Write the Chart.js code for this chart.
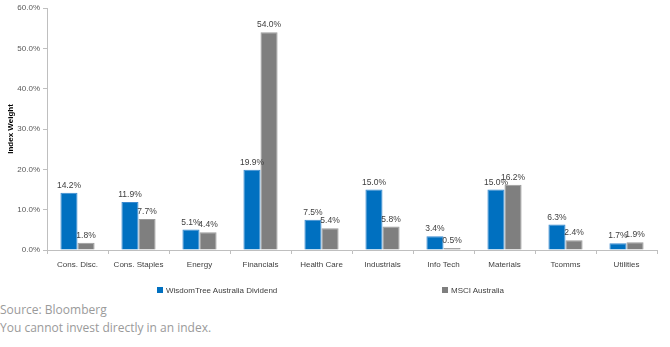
<!DOCTYPE html>
<html lang="en">
<head>
  <meta charset="UTF-8">
  <title>Sector Weights</title>
  <script src="https://cdn.jsdelivr.net/npm/chart.js"></script>
  <style>
    body {
      margin: 0;
      background: #fff;
      font-family: "Open Sans", sans-serif;
    }
    .chart-box {
      position: relative;
      width: 670px;
      height: 300px;
    }
    .legend {
      position: absolute;
      top: 286px;
      font: 8px "Liberation Sans", Arial, sans-serif;
      color: #404040;
      line-height: 10px;
      white-space: nowrap;
    }
    .legend i {
      display: inline-block;
      width: 6px;
      height: 6px;
      margin-right: 3px;
      vertical-align: 0;
    }
    .notes {
      padding-top: 1px;
      font-size: 12px;
      line-height: 18px;
      color: #9a9a9a;
    }
    .notes p { margin: 0; }
  </style>
</head>
<body>
  <div class="chart-box">
    <canvas id="weightsChart"></canvas>
    <div class="legend" style="left:157px"><i style="background:#0070c0"></i>WisdomTree Australia Dividend</div>
    <div class="legend" style="left:442px"><i style="background:#7f7f7f"></i>MSCI Australia</div>
  </div>
  <div class="notes">
    <p>Source: Bloomberg</p>
    <p>You cannot invest directly in an index.</p>
  </div>

  <script>
    const sectors = ['Cons. Disc.', 'Cons. Staples', 'Energy', 'Financials', 'Health Care',
      'Industrials', 'Info Tech', 'Materials', 'Tcomms', 'Utilities'];
    const wisdomTree = [14.2, 11.9, 5.1, 19.9, 7.5, 15.0, 3.4, 15.0, 6.3, 1.7];
    const msciAustralia = [1.8, 7.7, 4.4, 54.0, 5.4, 5.8, 0.5, 16.2, 2.4, 1.9];
    const yTicks = [0, 10, 20, 30, 40, 50, 60];

    // value labels above each bar
    const barLabels = {
      id: 'barLabels',
      afterDatasetsDraw(chart) {
        const ctx = chart.ctx;
        ctx.save();
        ctx.font = '8.5px "Liberation Sans", Arial, sans-serif';
        ctx.fillStyle = '#404040';
        ctx.textAlign = 'center';
        ctx.textBaseline = 'bottom';
        chart.data.datasets.forEach((ds, i) => {
          chart.getDatasetMeta(i).data.forEach((bar, j) => {
            ctx.fillText(ds.data[j].toFixed(1) + '%', bar.x, bar.y - 3);
          });
        });
        ctx.restore();
      }
    };

    const axisColor = '#bfbfbf';

    new Chart(document.getElementById('weightsChart'), {
      type: 'bar',
      data: {
        labels: sectors,
        datasets: [{
          label: 'WisdomTree Australia Dividend',
          data: wisdomTree,
          backgroundColor: '#0070c0',
          borderColor: '#3b8ad0',
          borderWidth: 1,
          categoryPercentage: 0.56,
          barPercentage: 1
        }, {
          label: 'MSCI Australia',
          data: msciAustralia,
          backgroundColor: '#7f7f7f',
          borderColor: '#9a9a9a',
          borderWidth: 1,
          categoryPercentage: 0.56,
          barPercentage: 1
        }]
      },
      options: {
        responsive: true,
        maintainAspectRatio: false,
        animation: false,
        layout: { padding: { top: 8, right: 13, left: 0, bottom: 0 } },
        plugins: {
          legend: { display: false },
          tooltip: { enabled: false }
        },
        scales: {
          x: {
            afterFit: scale => { scale.height = 50; },
            border: { display: true, color: axisColor },
            grid: { display: true, drawOnChartArea: false, drawTicks: true, tickLength: 4, color: axisColor, offset: true },
            ticks: {
              color: '#404040',
              padding: 6,
              maxRotation: 0,
              autoSkip: false,
              font: { family: '"Liberation Sans", Arial, sans-serif', size: 8 }
            }
          },
          y: {
            min: yTicks[0],
            max: yTicks[yTicks.length - 1],
            afterFit: scale => { scale.width = 47; },
            afterBuildTicks: scale => { scale.ticks = yTicks.map(v => ({ value: v })); },
            border: { display: true, color: axisColor },
            grid: { display: true, drawOnChartArea: false, drawTicks: true, tickLength: 4, color: axisColor },
            title: {
              display: true,
              text: 'Index Weight',
              color: '#000',
              padding: { top: 6, bottom: 2 },
              font: { family: '"Liberation Sans", Arial, sans-serif', size: 8, weight: 'bold' }
            },
            ticks: {
              color: '#595959',
              padding: 3,
              font: { family: '"Liberation Sans", Arial, sans-serif', size: 8 },
              callback: v => v.toFixed(1) + '%'
            }
          }
        }
      },
      plugins: [barLabels]
    });
  </script>
</body>
</html>
